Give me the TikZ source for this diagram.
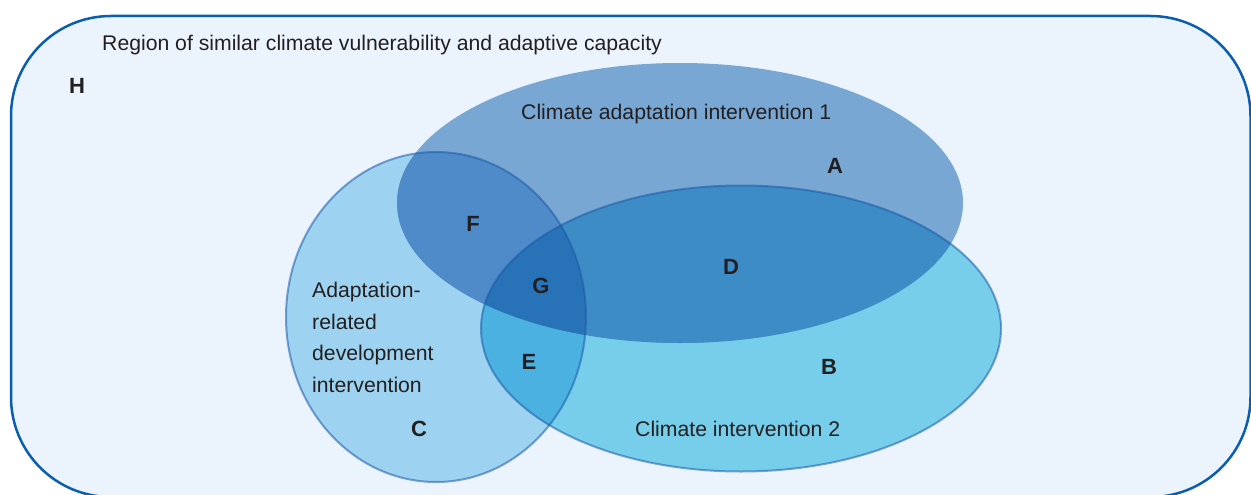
\documentclass[tikz,border=0pt]{standalone}
\usepackage{fontspec}
\setmainfont{Liberation Sans}
\definecolor{bgfill}{HTML}{EBF4FC}
\definecolor{frame}{HTML}{0B5DAE}
\definecolor{afill}{HTML}{77A7D2}
\definecolor{bfill}{HTML}{76CEEA}
\definecolor{cfill}{HTML}{9DD3F0}
\definecolor{acfill}{HTML}{4E8BC8}
\definecolor{abfill}{HTML}{3D8CC6}
\definecolor{bcfill}{HTML}{4BB1E1}
\definecolor{abcfill}{HTML}{2873B7}
\definecolor{edgecol}{HTML}{1E5AA8}
\definecolor{txt}{HTML}{231F20}
\begin{document}
\begin{tikzpicture}[x=1pt,y=-1pt,
  lbl/.style={inner sep=0pt, text=txt, font=\fontsize{21.2}{31.5}\selectfont},
  letter/.style={inner sep=0pt, text=txt, anchor=base, font=\fontsize{22}{25}\selectfont\bfseries},
  vedge/.style={draw=edgecol, draw opacity=0.55, line width=2pt}]
\useasboundingbox (0,0) rectangle (1251,495);
\clip (0,0) rectangle (1251,495);
\def\ellA{(680,203) ellipse [x radius=283, y radius=140]}
\def\ellB{(741,328.5) ellipse [x radius=260, y radius=143]}
\def\ellC{(436,317) ellipse [x radius=150, y radius=165]}
% region frame
\draw[frame, fill=bgfill, line width=2.5pt, rounded corners=100pt] (11,16) rectangle (1250.5,497);
% base fills
\fill[cfill] \ellC;
\fill[bfill] \ellB;
\fill[afill] \ellA;
% B and C
\begin{scope}
  \clip \ellB;
  \fill[bcfill] \ellC;
\end{scope}
% overlaps with A
\begin{scope}
  \clip \ellA;
  \fill[acfill] \ellC;
  \fill[abfill] \ellB;
  \clip \ellB;
  \fill[abcfill] \ellC;
\end{scope}
% outlines
\path[vedge] \ellC;
\path[vedge] \ellB;
% texts
\node[lbl, anchor=base west] (region) at (102,51) {Region of similar climate vulnerability and adaptive capacity};
\node[letter] (H) at (77,93) {H};
\node[lbl, anchor=base west] (cai) at (521,119) {Climate adaptation intervention 1};
\node[letter] (A) at (835,173) {A};
\node[letter] (F) at (473,231) {F};
\node[letter] (G) at (541,293) {G};
\node[letter] (D) at (731,274) {D};
\node[letter] (E) at (529,369) {E};
\node[letter] (B) at (829,374) {B};
\node[letter] (C) at (419,436) {C};
\node[lbl, anchor=base west] (ci2) at (635,436) {Climate intervention 2};
\node[lbl, anchor=north west, align=left] (ard) at (312,282) {Adaptation-\\related\\development\\intervention};
\end{tikzpicture}
\end{document}
